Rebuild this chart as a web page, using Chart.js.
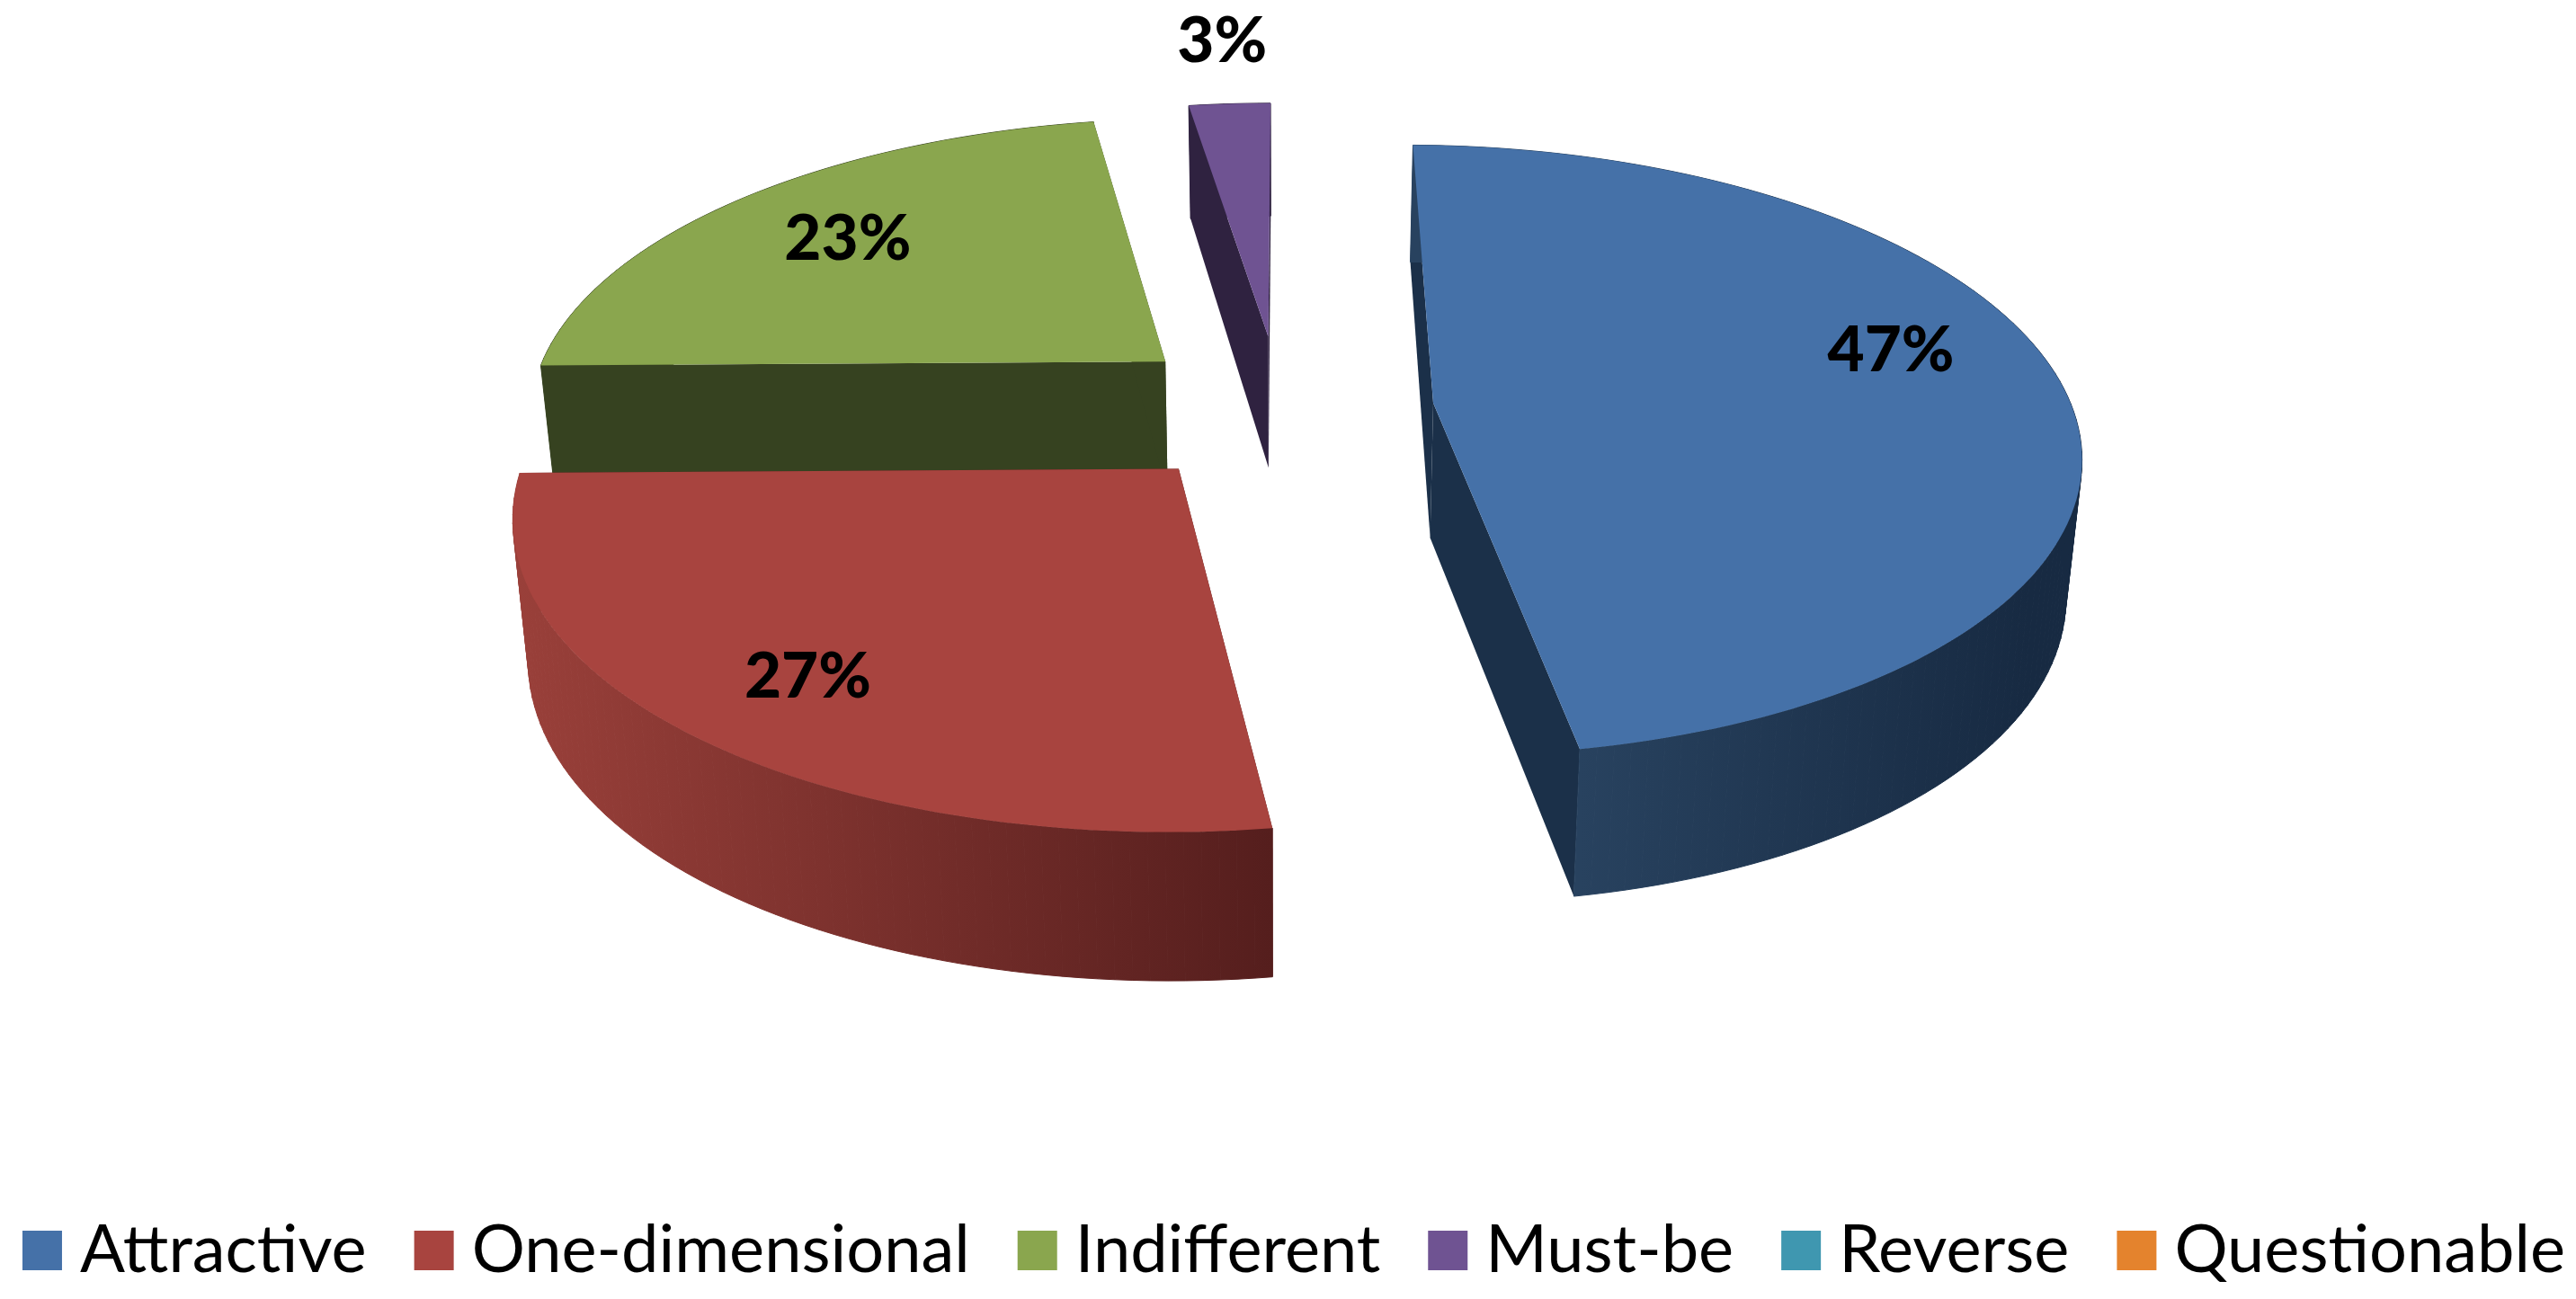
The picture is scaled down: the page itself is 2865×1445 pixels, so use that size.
<!DOCTYPE html>
<html>
<head>
<meta charset="utf-8">
<title>Kano categories</title>
<script src="https://cdn.jsdelivr.net/npm/chart.js@4"></script>
<style>
    html, body { margin: 0; padding: 0; background: #fff; overflow: hidden; }
    #wrap { width: 2865px; height: 1445px; }
</style>
</head>
<body>
<div id="wrap"><canvas id="pieChart"></canvas></div>
<script>
const categories = ["Attractive", "One-dimensional", "Indifferent", "Must-be", "Reverse", "Questionable"];
// shares, they round to the printed labels
const shares = [47.4, 27.4, 22.6, 2.6, 0, 0];
const topColors = ["#4571A8", "#A8443F", "#8AA64E", "#6F5392", "#3F97B0", "#E4832D"];
const wallLeft = ["#28425F", "#9A403A", "#364220", "#2F2240", "#2A6A7C", "#9E5A1E"];
const wallRight = ["#172A42", "#551E1D", "#364220", "#2F2240", "#2A6A7C", "#9E5A1E"];
const cutColors = ["#1B3049", "#551E1D", "#364220", "#2F2240", "#2A6A7C", "#9E5A1E"];
const labelRadius = [0.73, 0.80, 0.75, 1.27, 0, 0];
const labelLift = [38, 11, -10, 20, 0, 0];
// degrees taken off each rim, the original perspective is not a clean projection
const startTrim = [0.7, 1.1, 0, 0, 0, 0];
const endTrim = [0.9, 0, 1.0, 0, 0, 0];

// Chart.js has no 3D pie, so the arcs it lays out are projected here
const view = { x: 1424, y: 455, scaleX: 1.205, scaleY: 0.593, depth: 0.255 };
const paintOrder = [2, 3, 0, 1];

function project(arc, angle, frac, z) {
    const R = arc.outerRadius;
    const mid = (arc.startAngle + arc.endAngle) / 2;
    const off = arc.options.offset / R;
    const u = frac * Math.cos(angle) + off * Math.cos(mid);
    const v = -(frac * Math.sin(angle) + off * Math.sin(mid));
    const s = 1 / (1 + 0.16 * v + 0.05 * v * v);
    return {
        x: view.x + view.scaleX * R * u * s * (1 - 0.02 * z),
        y: view.y - view.scaleY * R * v * s + view.depth * R * Math.pow(s, 0.75) * z
    };
}

function tracePoly(ctx, pts) {
    ctx.beginPath();
    pts.forEach((p, i) => i ? ctx.lineTo(p.x, p.y) : ctx.moveTo(p.x, p.y));
    ctx.closePath();
}

function arcPoints(arc, i, z) {
    const pts = [];
    const a0 = arc.startAngle + startTrim[i] * Math.PI / 180;
    const a1 = arc.endAngle - endTrim[i] * Math.PI / 180;
    const steps = Math.max(4, Math.ceil((a1 - a0) * 40));
    for (let k = 0; k <= steps; k++) {
        pts.push(project(arc, a0 + (a1 - a0) * k / steps, 1, z));
    }
    return pts;
}

function wallGradient(ctx, top, i) {
    const xs = top.map(p => p.x);
    // blue only darkens over its front part
    const x0 = i === 0 ? xs[top.length - 1] : Math.min(...xs);
    const x1 = i === 0 ? x0 + 500 : Math.max(...xs);
    const grad = ctx.createLinearGradient(x0, 0, x1, 0);
    grad.addColorStop(0, wallLeft[i]);
    grad.addColorStop(1, wallRight[i]);
    return grad;
}

function drawSlice(ctx, arc, i) {
    const top = arcPoints(arc, i, 0);
    const bottom = arcPoints(arc, i, 1);
    const apexTop = project(arc, 0, 0, 0);
    const apexBottom = project(arc, 0, 0, 1);

    ctx.fillStyle = cutColors[i];
    tracePoly(ctx, [apexTop, top[0], bottom[0], apexBottom]);
    ctx.fill();
    tracePoly(ctx, [apexTop, top[top.length - 1], bottom[bottom.length - 1], apexBottom]);
    ctx.fill();

    // quad by quad, a single polygon leaves a notch where the rim turns
    const grad = wallGradient(ctx, top, i);
    ctx.fillStyle = grad;
    ctx.strokeStyle = grad;
    ctx.lineWidth = 1;
    for (let k = 0; k < top.length - 1; k++) {
        tracePoly(ctx, [top[k], top[k + 1], bottom[k + 1], bottom[k]]);
        ctx.fill();
        ctx.stroke();
    }

    ctx.fillStyle = topColors[i];
    tracePoly(ctx, [apexTop].concat(top));
    ctx.fill();
}

const pie3d = {
    id: "pie3d",
    beforeDatasetDraw(chart, args) {
        const ctx = chart.ctx;
        const arcs = args.meta.data;
        ctx.save();
        paintOrder.forEach(i => drawSlice(ctx, arcs[i], i));
        ctx.fillStyle = "#000";
        ctx.font = "900 71px Lato";
        ctx.textAlign = "center";
        ctx.textBaseline = "middle";
        arcs.forEach((arc, i) => {
            if (!shares[i]) return;
            const mid = (arc.startAngle + arc.endAngle) / 2;
            const p = project(arc, mid, labelRadius[i], 0);
            ctx.fillText(Math.round(shares[i]) + "%", p.x, p.y - labelLift[i]);
        });
        ctx.restore();
        return false;
    }
};

new Chart(document.getElementById("pieChart"), {
    type: "pie",
    plugins: [pie3d],
    data: {
        labels: categories,
        datasets: [{
            data: shares,
            backgroundColor: topColors,
            borderWidth: 0,
            offset: 142
        }]
    },
    options: {
        responsive: true,
        maintainAspectRatio: false,
        animation: false,
        radius: 590,
        layout: { padding: { bottom: 7, left: -45, right: -75 } },
        plugins: {
            tooltip: { enabled: false },
            legend: {
                position: "bottom",
                labels: {
                    // small box plus thick border: the default text gap is too wide for a 44px box
                    boxWidth: 10,
                    boxHeight: 10,
                    padding: 70,
                    color: "#000",
                    font: { family: "Lato", size: 74 },
                    generateLabels(chart) {
                        return Chart.overrides.pie.plugins.legend.labels.generateLabels(chart).map(item => {
                            item.lineWidth = 34;
                            item.strokeStyle = item.fillStyle;
                            return item;
                        });
                    }
                }
            }
        }
    }
});
</script>
</body>
</html>
